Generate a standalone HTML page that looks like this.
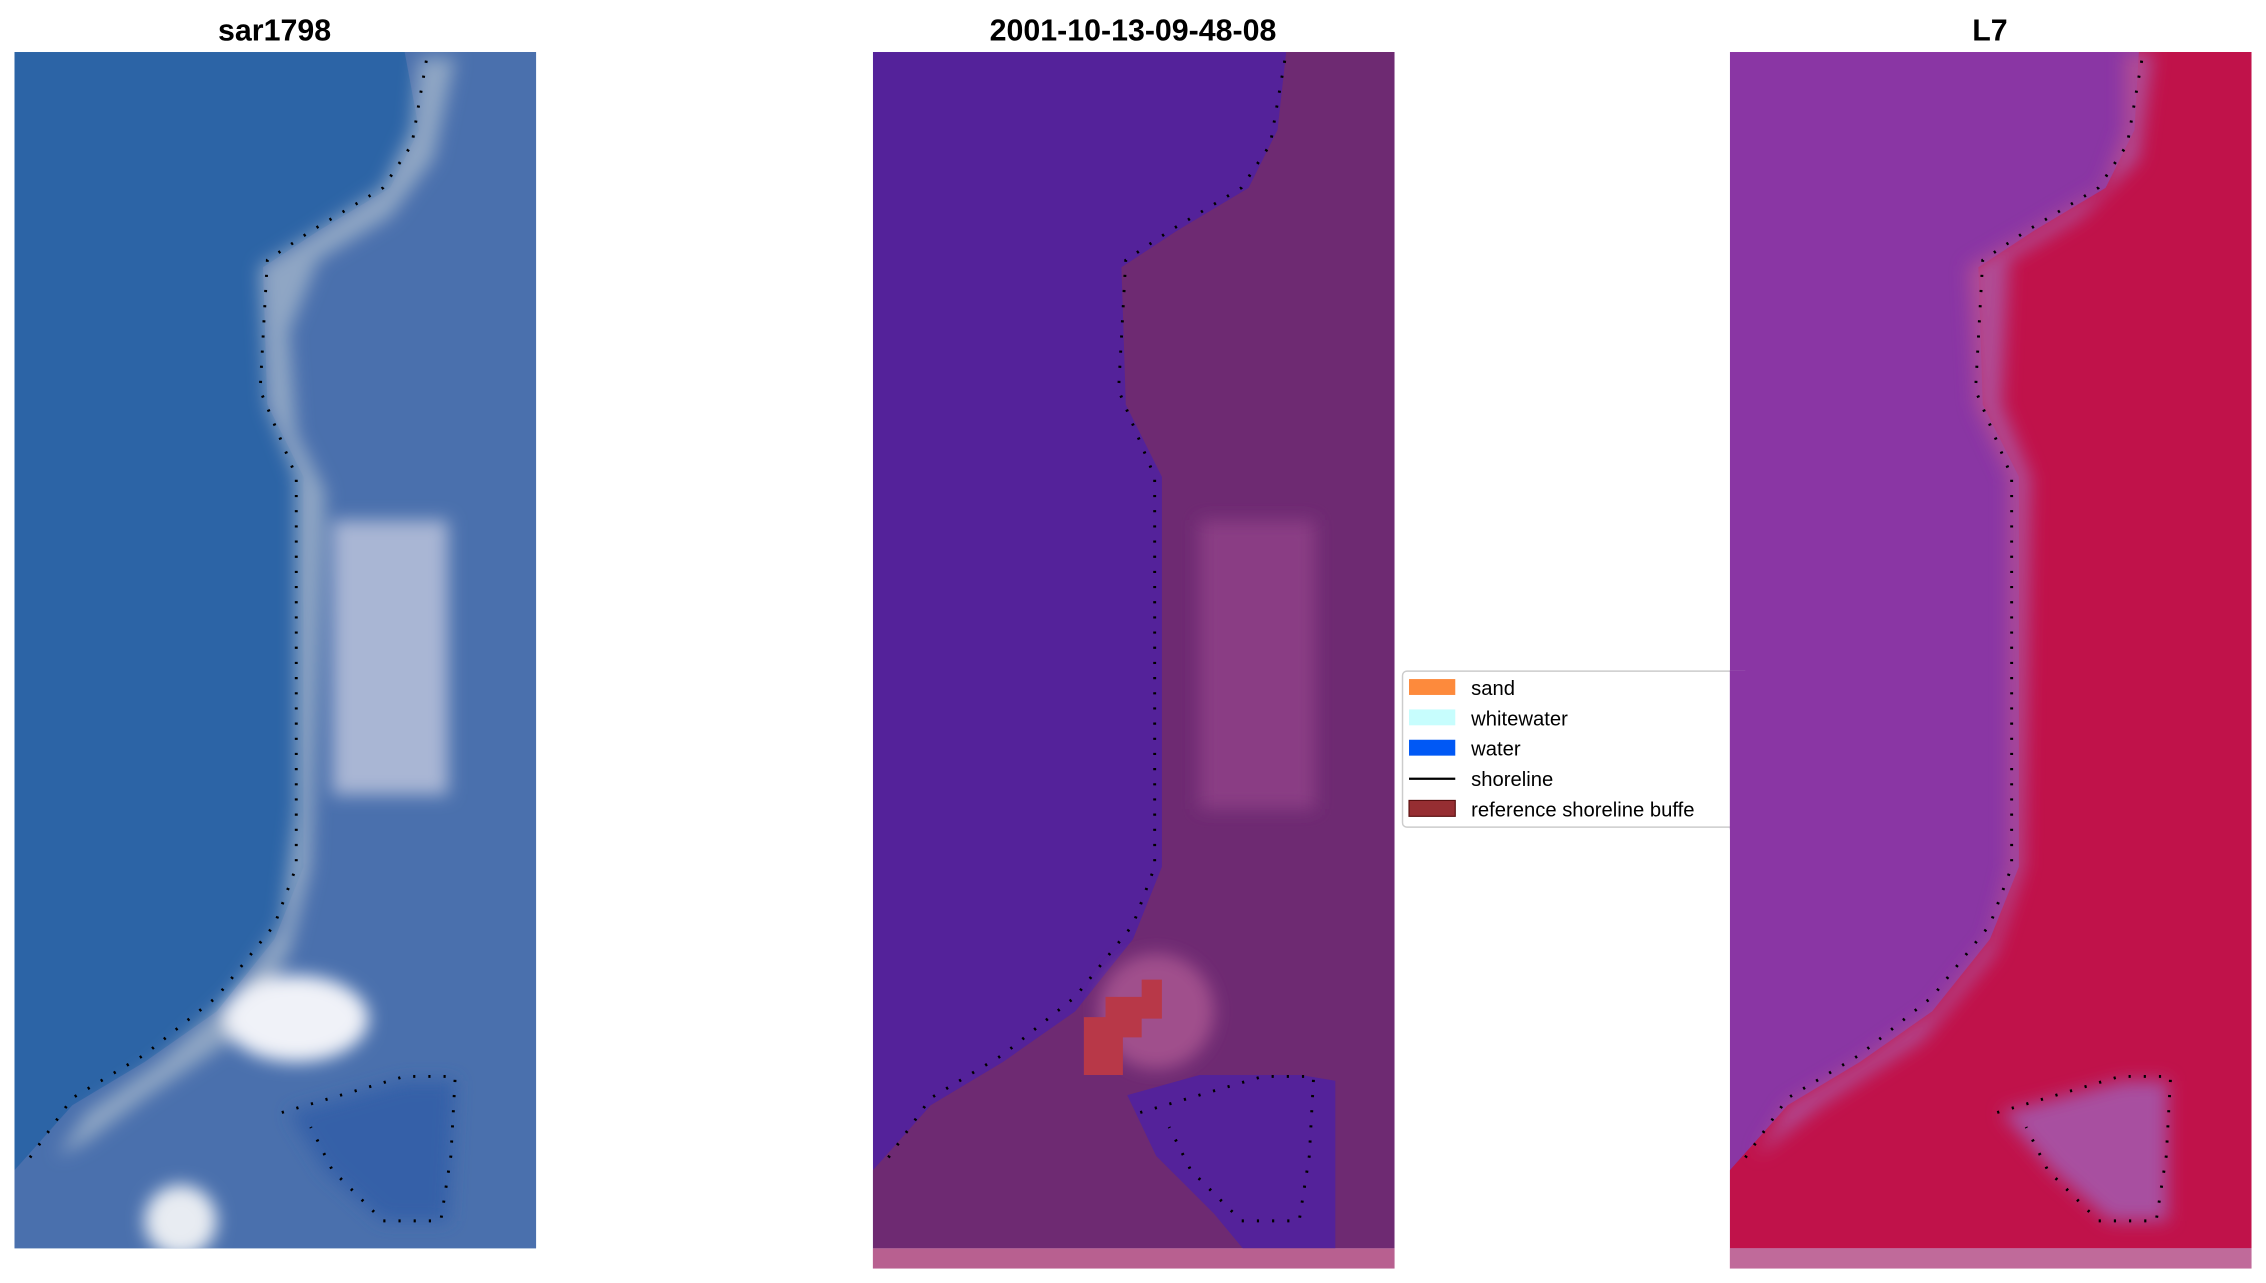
<!DOCTYPE html>
<html><head><meta charset="utf-8"><style>
html,body{margin:0;padding:0;background:#fff;}
svg{display:block;}
</style></head><body>
<svg width="2266" height="1283" viewBox="0 0 1568 888" preserveAspectRatio="none" xmlns="http://www.w3.org/2000/svg">
<defs>
<filter id="b" x="-20%" y="-20%" width="140%" height="140%"><feGaussianBlur stdDeviation="6"/></filter>
<clipPath id="c1"><rect x="10" y="36" width="361" height="828"/></clipPath>
<clipPath id="c2"><rect x="604" y="36" width="361" height="828"/></clipPath>
<clipPath id="c3"><rect x="1197" y="36" width="361" height="828"/></clipPath>
</defs>
<rect width="1568" height="888" fill="#fff"/>
<g font-family="Liberation Sans, sans-serif" font-weight="bold" font-size="21" text-anchor="middle" fill="#000">
<text x="190" y="28">sar1798</text>
<text x="784" y="28">2001-10-13-09-48-08</text>
<text x="1377" y="28">L7</text>
</g>

<!-- Panel 1 -->
<g clip-path="url(#c1)">
<rect x="10" y="36" width="361" height="828" fill="#2c64a6"/>
<polygon points="280,36 371,36 371,864 10,864 10,810 50,765 100,735 150,700 190,650 210,600 210,330 185,280 182,185 220,160 270,130 290,90" fill="#4a70ad"/>
<g filter="url(#b)">
<polygon points="290,40 315,40 300,110 270,150 220,180 200,230 205,300 225,340 215,600 200,660 160,720 100,760 60,790 40,800 60,770 110,735 160,690 195,640 205,560 205,330 185,280 180,185 220,160 265,130 285,90" fill="#8fa6c4"/>
<rect x="230" y="360" width="80" height="190" fill="#a9b6d4"/>
<ellipse cx="205" cy="705" rx="50" ry="30" fill="#f0f2f8"/>
<ellipse cx="125" cy="845" rx="25" ry="25" fill="#e8ecf2"/>
<polygon points="200,770 280,748 315,748 310,845 265,845 225,810" fill="#3660a8"/>
</g>
</g>

<!-- Panel 2 -->
<g clip-path="url(#c2)">
<rect x="604" y="36" width="361" height="828" fill="#54229a"/>
<polygon points="890,36 965,36 965,864 604,864 604,810 644,765 694,735 744,700 784,650 804,600 804,330 779,280 776,185 814,160 864,130 884,90" fill="#6e2a72"/>
<g filter="url(#b)">
<rect x="830" y="360" width="80" height="200" fill="#8a3d84"/>
<ellipse cx="800" cy="700" rx="40" ry="40" fill="#a0508c"/>
</g>
<polygon points="765,690 790,690 790,678 804,678 804,705 790,705 790,718 777,718 777,744 750,744 750,704 765,704" fill="#b83848"/>
<polygon points="780,758 830,744 900,744 924,748 924,864 860,864 840,840 800,800" fill="#54229a"/>
<rect x="604" y="864" width="361" height="14" fill="#b86090"/>
</g>
<rect x="604" y="864" width="361" height="14" fill="#b86090"/>

<!-- Panel 3 -->
<g clip-path="url(#c3)">
<rect x="1197" y="36" width="361" height="828" fill="#8a36a4"/>
<polygon points="1480,36 1558,36 1558,864 1197,864 1197,810 1237,765 1287,735 1337,700 1377,650 1397,600 1397,330 1372,280 1369,185 1407,160 1457,130 1477,90" fill="#c0124a"/>
<g filter="url(#b)">
<polygon points="1470,36 1490,36 1480,110 1440,150 1390,180 1385,280 1405,330 1400,600 1380,660 1330,720 1260,765 1215,800 1237,765 1287,735 1337,700 1377,650 1390,600 1390,330 1367,280 1362,185 1405,160 1455,130 1470,90" fill="#b04c94"/>
<polygon points="1385,770 1470,748 1500,748 1500,845 1460,845 1420,810" fill="#a850a0"/>
</g>
</g>
<rect x="1197" y="864" width="361" height="14" fill="#c06a9a"/>

<!-- shorelines -->
<g fill="none" stroke="#000" stroke-width="2" stroke-dasharray="1.5,9">
<g id="sl">
<path d="M295,42 L285,100 L265,130 L215,160 L185,180 L180,270 L205,330 L205,420 L205,600 L190,640 L150,690 L100,730 L50,760 L18,805"/>
<path d="M195,770 L280,745 L315,745 L312,800 L305,845 L265,845 L230,810 L215,780"/>
</g>
<use href="#sl" x="594"/>
<use href="#sl" x="1187"/>
</g>

<!-- legend -->
<rect x="970.5" y="464.5" width="240" height="108" rx="3" fill="#fff" stroke="#ccc"/>
<rect x="1197" y="464" width="15" height="110" fill="#8a36a4"/>
<g font-family="Liberation Sans, sans-serif" font-size="14" fill="#000">
<rect x="975" y="470" width="32" height="11" fill="#fd8a3c"/><text x="1018" y="481">sand</text>
<rect x="975" y="491" width="32" height="11" fill="#c7fdfd"/><text x="1018" y="502">whitewater</text>
<rect x="975" y="512" width="32" height="11" fill="#0058f5"/><text x="1018" y="523">water</text>
<line x1="975" y1="539" x2="1007" y2="539" stroke="#000" stroke-width="1.5"/><text x="1018" y="544">shoreline</text>
<rect x="975" y="554" width="32" height="11" fill="#962e32" stroke="#5a1010" stroke-width="0.8"/><text x="1018" y="565">reference shoreline buffe</text>
</g>
</svg>
</body></html>
